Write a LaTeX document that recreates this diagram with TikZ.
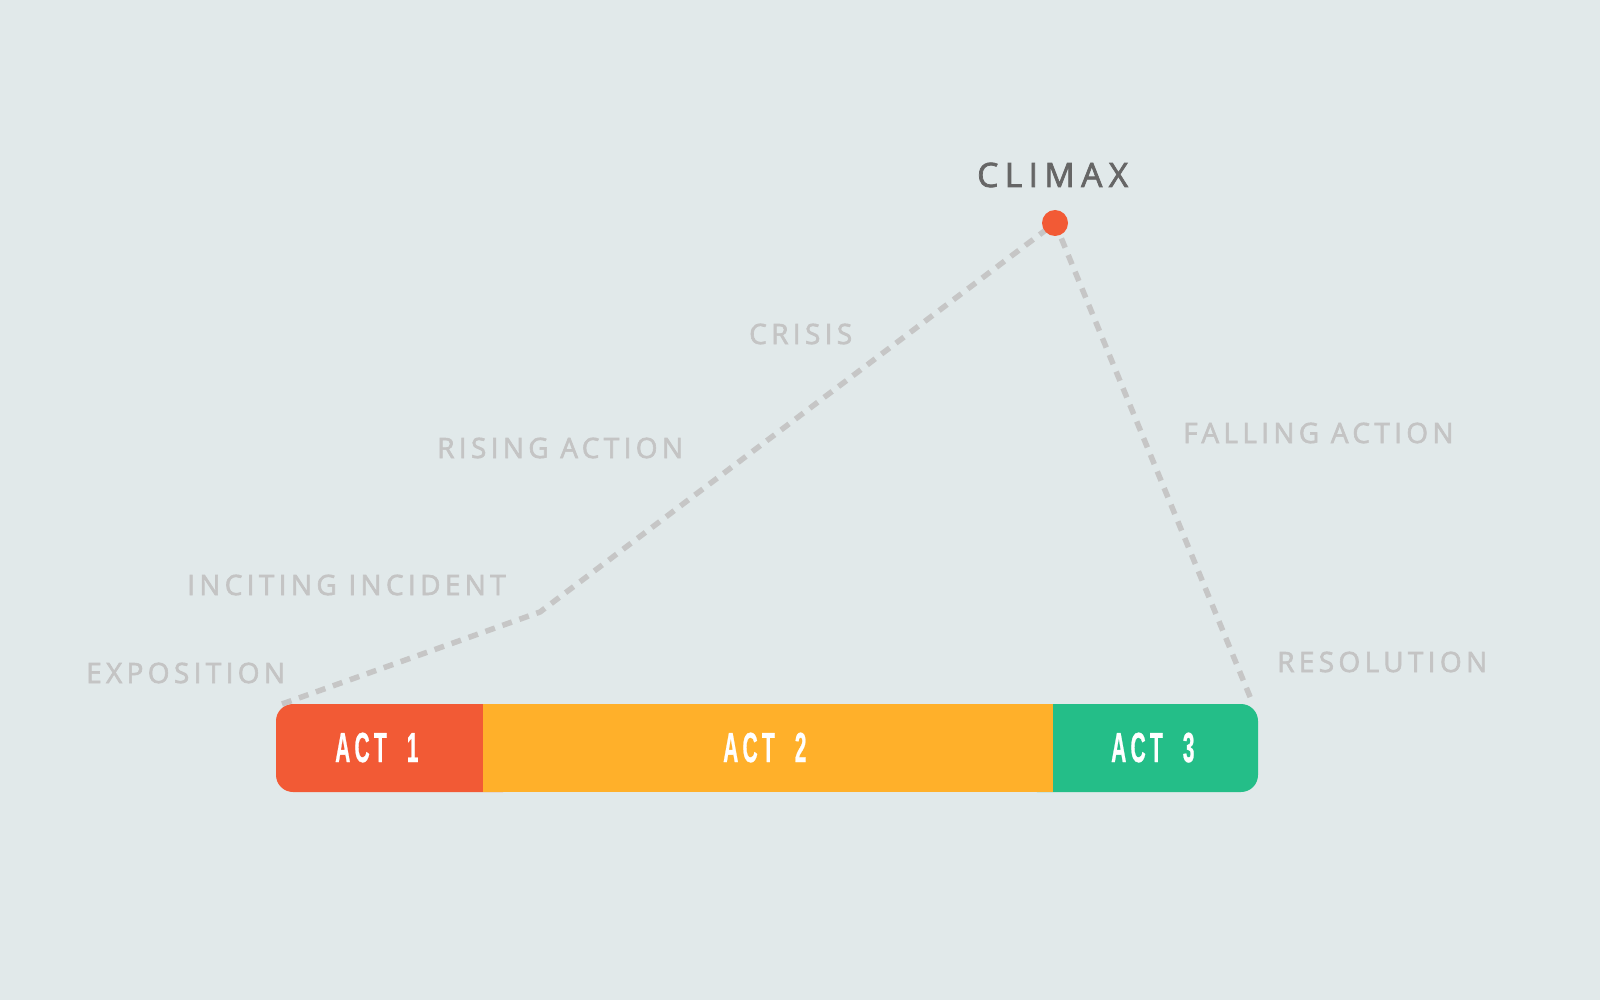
\documentclass[tikz,border=0pt]{standalone}
\usepackage{fontspec}
\usepackage{graphicx}
\newfontfamily\labelfont[LetterSpace=15.5,FakeBold=2.2]{Open Sans}
\newfontfamily\climaxfont[LetterSpace=19,FakeBold=2.2]{Open Sans}
\newfontfamily\actfont[LetterSpace=20,FakeBold=1]{Liberation Sans}
\definecolor{bg}{HTML}{E1E9EA}
\definecolor{actone}{HTML}{F25A35}
\definecolor{acttwo}{HTML}{FFB02A}
\definecolor{actthree}{HTML}{24BE88}
\definecolor{lbl}{HTML}{C4C4C4}
\definecolor{dash}{HTML}{C6C6C6}
\definecolor{climaxtxt}{HTML}{666666}
\tikzset{
  plotlabel/.style={anchor=base west, inner sep=0pt, text=lbl, font=\labelfont\fontsize{28}{30}\selectfont},
  acttext/.style={anchor=base west, inner sep=0pt, text=white},
  storyline/.style={draw=dash, line width=5.5pt, dash pattern=on 10pt off 8pt},
}
\newcommand{\actlabel}[2]{\scalebox{0.5}[1]{\actfont\bfseries\fontsize{42}{44}\selectfont #1\hspace{20pt}#2}}
\begin{document}
\begin{tikzpicture}[x=1pt,y=-1pt]
\useasboundingbox[fill=bg] (0,0) rectangle (1600,1000);
% act bar
\fill[actone, rounded corners=17pt] (276,704) rectangle (520,792);
\fill[actthree, rounded corners=17pt] (1020,704) rectangle (1258,792);
\fill[acttwo] (483,704) rectangle (1053,792);
\node[acttext] (act1) at (335,762) {\actlabel{ACT }{1}};
\node[acttext] (act2) at (723,762) {\actlabel{ACT }{2}};
\node[acttext] (act3) at (1111,762) {\actlabel{ACT }{3}};
% story line
\coordinate (p0) at (282,704);
\coordinate (p1) at (540,612);
\coordinate (climaxpt) at (1055,223);
\coordinate (p3) at (1253,704);
\draw[storyline] (p0) -- (p1) -- (climaxpt) -- (p3);
\node[circle, fill=actone, minimum size=26pt, inner sep=0pt] (dot) at (climaxpt) {};
% labels
\node[anchor=base west, inner sep=0pt, text=climaxtxt, font=\climaxfont\fontsize{33.6}{36}\selectfont] (climax) at (977,187) {CLIMAX};
\node[plotlabel] (expo) at (86,683) {EXPOSITION};
\node[plotlabel] (incite) at (187,595) {INCITING INCIDENT};
\node[plotlabel] (rising) at (437,458) {RISING ACTION};
\node[plotlabel] (crisis) at (749,344) {CRISIS};
\node[plotlabel] (falling) at (1183,443) {FALLING ACTION};
\node[plotlabel] (resol) at (1277,672) {RESOLUTION};
\end{tikzpicture}
\end{document}
